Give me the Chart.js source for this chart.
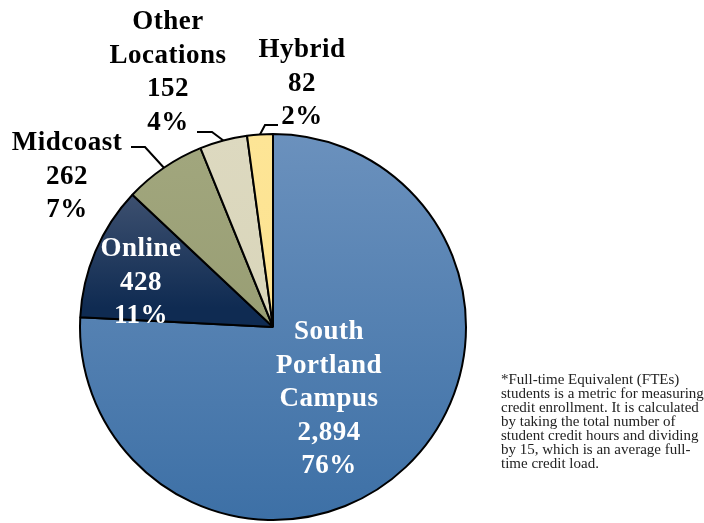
<!DOCTYPE html>
<html>
<head>
<meta charset="utf-8">
<script src="https://cdn.jsdelivr.net/npm/chart.js@4/dist/chart.umd.min.js"></script>
<style>
  html, body { margin: 0; padding: 0; background: #fff; }
  #wrap { position: relative; width: 704px; height: 523px; }
  #note { position: absolute; left: 501px; top: 372px; width: 210px; white-space: nowrap;
          font-family: "Liberation Serif", "Times New Roman", serif; font-size: 15px;
          line-height: 14px; color: #222; }
</style>
</head>
<body>
<div id="wrap">
  <canvas id="c" width="704" height="523"></canvas>
  <div id="note">*Full-time Equivalent (FTEs)<br>students is a metric for measuring<br>credit enrollment. It is calculated<br>by taking the total number of<br>student credit hours and dividing<br>by 15, which is an average full-<br>time credit load.</div>
</div>
<script>
// ---- data ----
const categories = ["South Portland Campus", "Online", "Midcoast", "Other Locations", "Hybrid"];
const categoryLines = [["South", "Portland", "Campus"], ["Online"], ["Midcoast"], ["Other", "Locations"], ["Hybrid"]];
const fteValues = [2894, 428, 262, 152, 82];

// ---- styles / layout ----
const topColors = ["#6b91bd", "#56647f", "#a2a77e", "#ddd9c0", "#fde596"];
const bottomColors = ["#3d70a6", "#0f2b52", "#8f956a", "#d5d2b4", "#fcdf8b"];
// label layout: center x, first baseline, colour, optional leader [elbowEndX, elbowX, elbowY]
const labelLayout = [
  { x: 329, y: 339, color: "#fff" },
  { x: 141, y: 256, color: "#fff" },
  { x: 67,  y: 150, color: "#000", leader: [131, 145, 147] },
  { x: 168, y: 29,  color: "#000", leader: [197, 212, 132] },
  { x: 302, y: 57,  color: "#000", leader: [278, 265, 125] }
];
const LINE_H = 33.5;
const FONT = "bold 27px 'Liberation Serif', 'Times New Roman', serif";

const total = fteValues.reduce((a, b) => a + b, 0);

function sliceGradient(context) {
  const chart = context.chart;
  const i = context.dataIndex;
  const area = chart.chartArea;
  if (!area) return topColors[i];
  const meta = chart.getDatasetMeta(0);
  const arc = meta.data[i];
  const cx = (area.left + area.right) / 2, cy = (area.top + area.bottom) / 2;
  const r = Math.min(area.right - area.left, area.bottom - area.top) / 2;
  let y0 = cy - r, y1 = cy + r;
  if (arc && arc.startAngle !== undefined) {
    const ys = [cy];
    const n = 24;
    for (let k = 0; k <= n; k++) {
      const a = arc.startAngle + (arc.endAngle - arc.startAngle) * k / n;
      ys.push(cy + r * Math.sin(a));
    }
    y0 = Math.min(...ys); y1 = Math.max(...ys);
  }
  const g = chart.ctx.createLinearGradient(0, y0, 0, y1);
  g.addColorStop(0, topColors[i]);
  g.addColorStop(i === 1 ? 0.45 : 1, bottomColors[i]);
  g.addColorStop(1, bottomColors[i]);
  return g;
}

const labelPlugin = {
  id: "sliceLabels",
  afterDatasetsDraw(chart) {
    const ctx = chart.ctx;
    const meta = chart.getDatasetMeta(0);
    ctx.save();
    meta.data.forEach((arc, i) => {
      const L = labelLayout[i];
      if (L.leader) {
        const mid = (arc.startAngle + arc.endAngle) / 2;
        const ex = arc.x + arc.outerRadius * Math.cos(mid);
        const ey = arc.y + arc.outerRadius * Math.sin(mid);
        ctx.beginPath();
        ctx.moveTo(L.leader[0], L.leader[2]);
        ctx.lineTo(L.leader[1], L.leader[2]);
        ctx.lineTo(ex, ey);
        ctx.strokeStyle = "#000";
        ctx.lineWidth = 2;
        ctx.stroke();
      }
      const pct = Math.round(fteValues[i] / total * 100) + "%";
      const lines = categoryLines[i].concat([fteValues[i].toLocaleString("en-US"), pct]);
      ctx.font = FONT;
      ctx.letterSpacing = "0.5px";
      ctx.fillStyle = L.color;
      ctx.textAlign = "center";
      ctx.textBaseline = "alphabetic";
      lines.forEach((t, k) => ctx.fillText(t, L.x, L.y + k * LINE_H));
    });
    ctx.restore();
  }
};

new Chart(document.getElementById("c"), {
  type: "pie",
  data: {
    labels: categories,
    datasets: [{
      data: fteValues,
      backgroundColor: sliceGradient,
      borderColor: "#000",
      borderWidth: 2,
      hoverOffset: 0,
      offset: 0
    }]
  },
  options: {
    responsive: false,
    animation: false,
    events: [],
    layout: { padding: { left: 79, top: 133, right: 237, bottom: 2 } },
    plugins: { legend: { display: false }, tooltip: { enabled: false } }
  },
  plugins: [labelPlugin]
});
</script>
</body>
</html>
